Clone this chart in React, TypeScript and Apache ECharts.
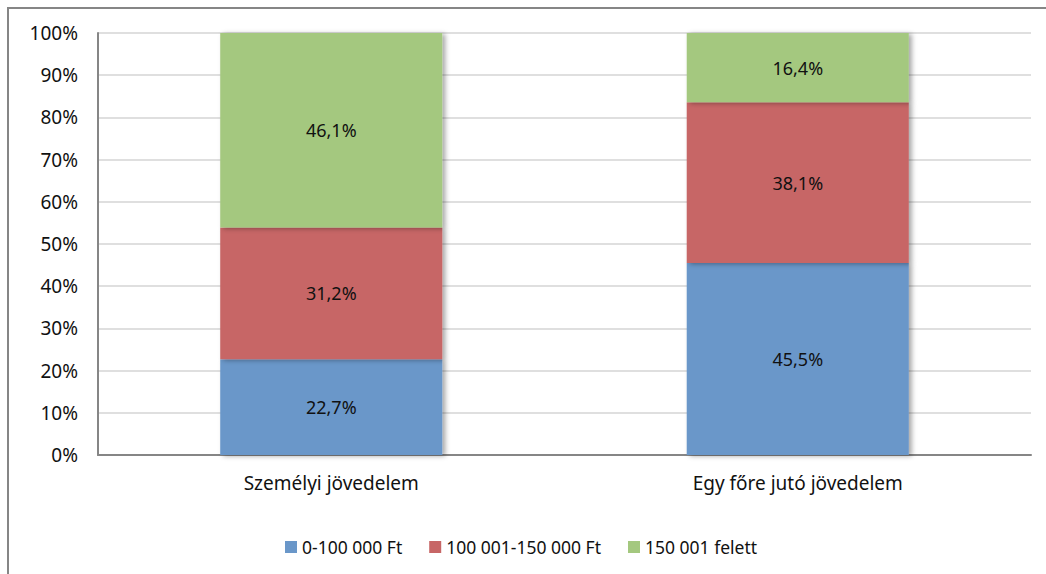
import React, { useEffect, useRef } from "react";
import * as echarts from "echarts";

const categories = ["Személyi jövedelem", "Egy főre jutó jövedelem"];
const seriesNames = ["0-100 000 Ft", "100 001-150 000 Ft", "150 001 felett"];
const lowValues = [22.7, 45.5];
const midValues = [31.2, 38.1];
const highValues = [46.1, 16.4];
const colors = ["#6a97c9", "#c76666", "#a4c87f"];

const FONT = "Noto Sans";

export default function App() {
  const ref = useRef<HTMLDivElement>(null);
  useEffect(() => {
    if (!ref.current) return;
    const chart = echarts.init(ref.current, null, { renderer: "svg" });
    const mk = (name: string, data: number[], color: string) => ({
      name,
      type: "bar",
      stack: "total",
      data,
      barWidth: "47.6%",
      itemStyle: {
        color,
        shadowColor: "rgba(0,0,0,0.35)",
        shadowBlur: 5,
        shadowOffsetX: 3,
        shadowOffsetY: 1,
      },
      label: {
        show: true,
        position: "inside",
        color: "#111",
        fontSize: 18,
        fontFamily: FONT,
        formatter: (p: any) => p.value.toFixed(1).replace(".", ",") + "%",
      },
    });
    chart.setOption({
      animation: false,
      textStyle: { fontFamily: FONT },
      graphic: [
        {
          type: "rect",
          shape: { x: 8, y: 8, width: 1060, height: 600 },
          style: { fill: "none", stroke: "#868686", lineWidth: 2 },
          silent: true,
        },
      ],
      grid: { left: 98, right: 15, top: 33, bottom: 119, containLabel: false },
      legend: {
        data: seriesNames,
        left: 280,
        top: 533,
        itemWidth: 12,
        itemHeight: 12,
        itemGap: 27,
        icon: "rect",
        textStyle: { fontSize: 17.5, color: "#111", fontFamily: FONT },
      },
      xAxis: {
        type: "category",
        data: categories,
        axisLine: { show: true, lineStyle: { color: "#868686", width: 2 } },
        axisTick: { show: false },
        axisLabel: { fontSize: 19, color: "#111", margin: 18, fontFamily: FONT },
      },
      yAxis: {
        type: "value",
        min: 0,
        max: 100,
        interval: 10,
        axisLine: { show: true, lineStyle: { color: "#868686", width: 2 } },
        axisTick: { show: false },
        splitLine: { lineStyle: { color: "#d4d4d4", width: 1.5 } },
        axisLabel: {
          fontSize: 19,
          color: "#111",
          margin: 20,
          fontFamily: FONT,
          formatter: "{value}%",
        },
      },
      series: [
        mk(seriesNames[0], lowValues, colors[0]),
        mk(seriesNames[1], midValues, colors[1]),
        mk(seriesNames[2], highValues, colors[2]),
      ],
    });
    return () => chart.dispose();
  }, []);
  return (
    <div
      ref={ref}
      style={{ position: "fixed", left: 0, top: 0, width: 1046, height: 574, background: "#fff" }}
    />
  );
}
